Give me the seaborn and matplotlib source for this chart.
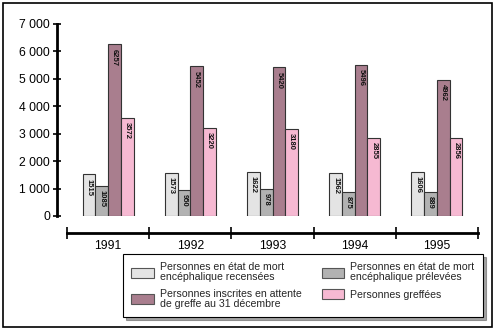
import matplotlib
matplotlib.use("Agg")
import matplotlib.pyplot as plt
import seaborn as sns
import pandas as pd
from matplotlib.patches import Rectangle
from matplotlib.ticker import FixedLocator, FuncFormatter

years = ["1991", "1992", "1993", "1994", "1995"]
series = [
    "Personnes en état de mort\nencéphalique recensées",
    "Personnes en état de mort\nencéphalique prélevées",
    "Personnes inscrites en attente\nde greffe au 31 décembre",
    "Personnes greffées",
]
recensees = [1515, 1573, 1622, 1562, 1606]
prelevees = [1085, 950, 978, 875, 889]
attente = [6257, 5452, 5420, 5496, 4962]
greffees = [3572, 3220, 3180, 2855, 2856]
colors = ["#e4e4e4", "#b2b2b2", "#a97e8e", "#f6b9d2"]

rows = []
for name, vals in zip(series, [recensees, prelevees, attente, greffees]):
    for y, v in zip(years, vals):
        rows.append({"year": y, "serie": name, "value": v})
df = pd.DataFrame(rows)

sns.set_theme(style="white")
plt.rcParams["font.family"] = ["Liberation Sans", "DejaVu Sans"]

fig = plt.figure(figsize=(4.95, 3.30), dpi=100)
ax = fig.add_axes([57/495, 1-216/330, (478-57)/495, (216-24)/330])

sns.barplot(data=df, x="year", y="value", hue="serie", order=years,
            hue_order=series, palette=colors, width=0.62, dodge=True,
            edgecolor="#333333", linewidth=0.8, saturation=1, ax=ax,
            legend=True)

for cont in ax.containers:
    for bar in cont:
        h = bar.get_height()
        ax.annotate(f"{int(h)}", (bar.get_x() + bar.get_width()/2, h),
                    xytext=(0, -3), textcoords="offset points",
                    ha="center", va="top", rotation=-90, fontsize=5.5,
                    fontweight="bold", color="#111111")

ax.set_ylim(0, 7000)
ax.set_xlim(-0.5 - 10/82.2, 4.5)
ax.set_xlabel("")
ax.set_ylabel("")

for s in ["top", "right"]:
    ax.spines[s].set_visible(False)
ax.spines["left"].set_linewidth(2)
ax.spines["left"].set_color("black")
ax.spines["left"].set_bounds(0, 7000)
ax.spines["bottom"].set_position(("outward", 12))
ax.spines["bottom"].set_bounds(-0.5, 4.5)
ax.spines["bottom"].set_linewidth(2)
ax.spines["bottom"].set_color("black")

ax.yaxis.set_major_locator(FixedLocator(range(0, 7001, 1000)))
ax.yaxis.set_major_formatter(FuncFormatter(lambda v, p: f"{int(v):,}".replace(",", " ")))
ax.tick_params(axis="y", direction="inout", length=6, width=1.2, labelsize=8.7,
               left=True, pad=2, colors="black")

ax.xaxis.set_major_locator(FixedLocator([-0.5, 0.5, 1.5, 2.5, 3.5, 4.5]))
ax.xaxis.set_major_formatter(FuncFormatter(lambda v, p: ""))
ax.set_xticks(range(5), years, minor=True)
ax.tick_params(axis="x", which="major", direction="inout", length=8, width=1.2,
               bottom=True, colors="black")
ax.tick_params(axis="x", which="minor", length=0, labelsize=8.7, pad=5,
               labelcolor="black")
ax.grid(False)

handles, labels = ax.get_legend_handles_labels()
ax.get_legend().remove()
order = [0, 2, 1, 3]
handles = [handles[i] for i in order]
labels = [labels[i] for i in order]
leg = fig.legend(handles, labels, ncol=2, loc="upper left", mode="expand",
                 bbox_to_anchor=(123/495, 10/330, (483-123)/495, (320-254)/330),
                 frameon=True, fancybox=False, shadow=True, edgecolor="black",
                 fontsize=7.6, handlelength=2.1, handleheight=1.15,
                 columnspacing=1.5, labelspacing=0.6, borderpad=0.8,
                 handletextpad=0.6, borderaxespad=0)
leg.get_frame().set_linewidth(0.8)
for t in leg.get_texts():
    t.set_linespacing(1.0)
for h in leg.legend_handles:
    h.set_edgecolor("#555555")
    h.set_linewidth(0.8)

fig.patches.append(Rectangle((3/495, 3/330), 489/495, 324/330,
                             transform=fig.transFigure, fill=False,
                             edgecolor="black", linewidth=1.2))

fig.savefig("out.png", dpi=100)
